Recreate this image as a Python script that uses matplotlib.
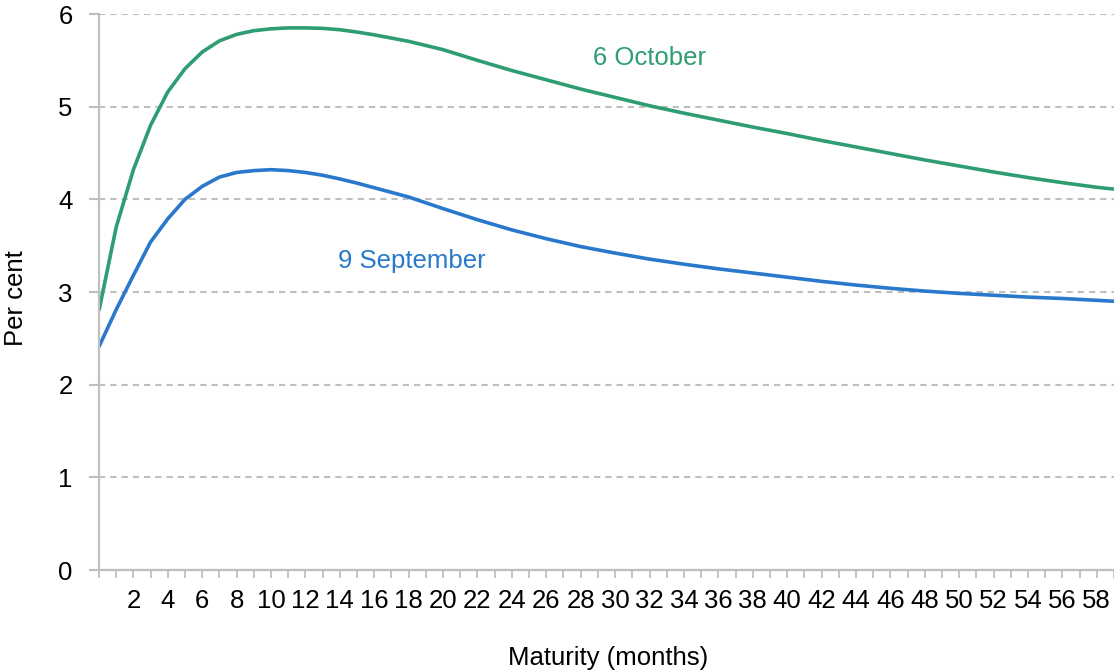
import matplotlib
matplotlib.use("Agg")
import matplotlib.pyplot as plt
from matplotlib.ticker import MultipleLocator

plt.rcParams['font.family'] = ['Liberation Sans', 'DejaVu Sans']

# Maturity in months and yield readings (per cent)
months = [0, 1, 2, 3, 4, 5, 6, 7, 8, 9, 10, 11, 12, 13, 14, 15, 16, 17, 18,
          20, 22, 24, 26, 28, 30, 32, 34, 36, 38, 40, 42, 44, 46, 48, 50,
          52, 54, 56, 58, 59]
oct_6 = [2.80, 3.70, 4.32, 4.80, 5.16, 5.41, 5.59, 5.71, 5.78, 5.82, 5.84,
         5.85, 5.85, 5.845, 5.83, 5.805, 5.775, 5.74, 5.705,
         5.615, 5.50, 5.39, 5.29, 5.19, 5.10, 5.01, 4.93, 4.855, 4.78, 4.71,
         4.635, 4.565, 4.495, 4.425, 4.36, 4.295, 4.235, 4.18, 4.13, 4.11]
sep_9 = [2.41, 2.81, 3.18, 3.54, 3.79, 4.00, 4.14, 4.24, 4.29, 4.31, 4.32,
         4.31, 4.29, 4.26, 4.22, 4.175, 4.125, 4.075, 4.025,
         3.90, 3.78, 3.67, 3.575, 3.49, 3.42, 3.355, 3.30, 3.25, 3.205, 3.16,
         3.115, 3.075, 3.04, 3.01, 2.985, 2.965, 2.945, 2.93, 2.91, 2.90]

x_labels = list(range(2, 59, 2))
y_ticks = [0, 1, 2, 3, 4, 5, 6]

GREEN = '#2e9d72'
BLUE = '#2a78cb'
GREY = '#bfbfbf'
FS = 18.5

fig = plt.figure(figsize=(11.14, 6.72), dpi=100)
ax = fig.add_axes([99 / 1114, (672 - 570) / 672, (1114 - 99) / 1114, 556 / 672])

ax.plot(months, oct_6, color=GREEN, lw=2.6, solid_capstyle='butt')
ax.plot(months, sep_9, color=BLUE, lw=2.6, solid_capstyle='butt')

ax.set_xlim(0, 59)
ax.set_ylim(0, 6)
ax.set_yticks(y_ticks)
ax.set_xticks(x_labels)
ax.xaxis.set_minor_locator(MultipleLocator(1))

ax.grid(axis='y', color=GREY, lw=1.5, linestyle=(0, (3, 2.4)))
ax.set_axisbelow(True)

for side in ['top', 'right']:
    ax.spines[side].set_visible(False)
for side in ['left', 'bottom']:
    ax.spines[side].set_color(GREY)
    ax.spines[side].set_linewidth(1.6)

ax.tick_params(axis='y', which='major', length=7, width=1.5, color=GREY,
               labelsize=FS, pad=12)
ax.tick_params(axis='x', which='both', length=6, width=1.3, color=GREY,
               labelsize=FS, pad=8)

ax.set_ylabel('Per cent', fontsize=FS, va='center')
ax.yaxis.set_label_coords(-0.0815, 0.489)
ax.set_xlabel('Maturity (months)', fontsize=FS, va='center')
ax.xaxis.set_label_coords(0.5015, -0.158)

ax.text(32, 5.53, '6 October', color=GREEN, fontsize=FS, ha='center', va='center')
ax.text(18.2, 3.33, '9 September', color=BLUE, fontsize=FS, ha='center', va='center')

fig.savefig('out.png', dpi=100)
